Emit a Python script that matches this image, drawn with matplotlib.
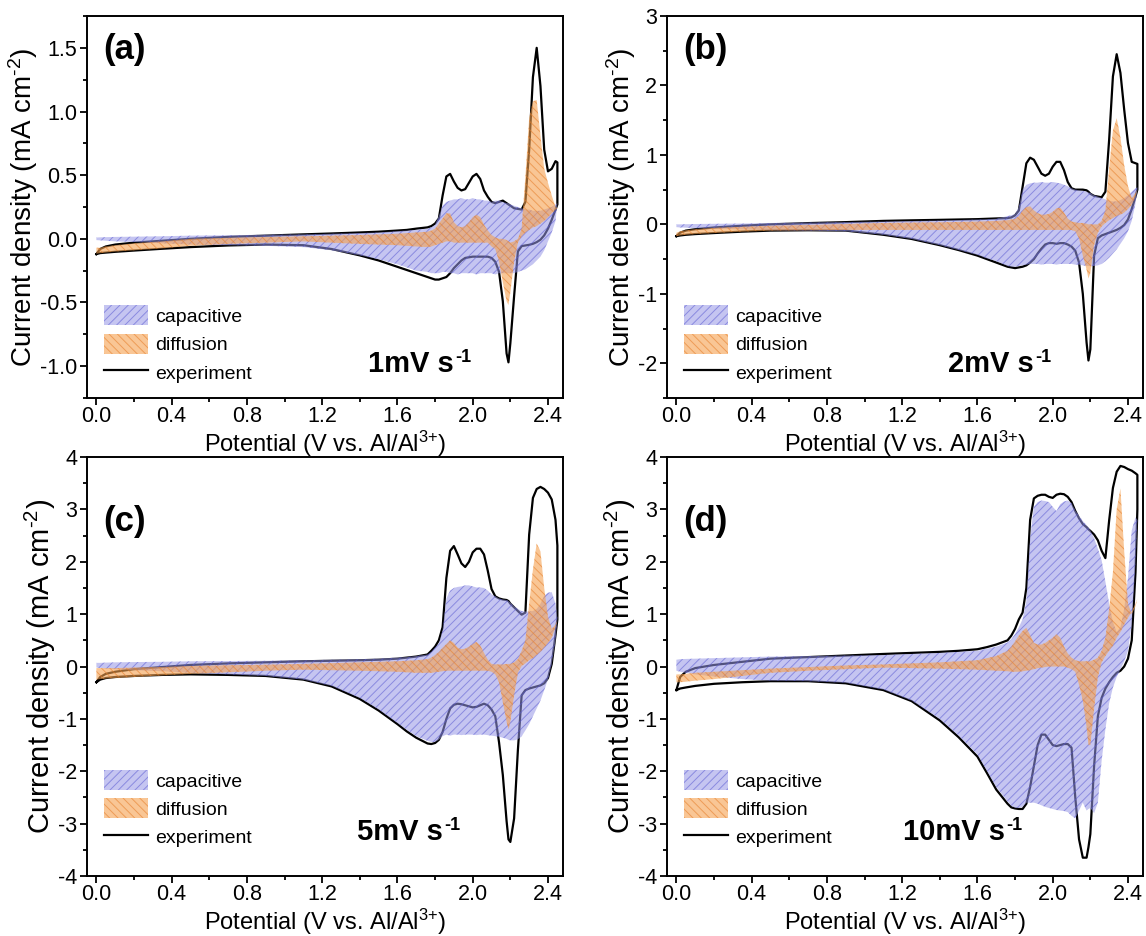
"""Capacitive / diffusion contribution to CV curves at four scan rates."""

import matplotlib
matplotlib.use("Agg")
import matplotlib.pyplot as plt
import numpy as np
from matplotlib.ticker import FormatStrFormatter, MultipleLocator

plt.rcParams["font.family"] = ["Liberation Sans", "DejaVu Sans"]
plt.rcParams["mathtext.fontset"] = "custom"
plt.rcParams["mathtext.rm"] = "Liberation Sans"
plt.rcParams["mathtext.it"] = "Liberation Sans:italic"
plt.rcParams["mathtext.bf"] = "Liberation Sans:bold"
plt.rcParams["axes.unicode_minus"] = False
plt.rcParams["hatch.linewidth"] = 0.7

# Potential grid (V vs. Al/Al3+) shared by every curve
POTENTIAL = [0.00, 0.02, 0.05, 0.10, 0.20, 0.35, 0.50, 0.70, 0.90, 1.10,
             1.25, 1.40, 1.50, 1.60, 1.65, 1.70,
             1.76, 1.78, 1.80, 1.82, 1.84, 1.86, 1.88, 1.90, 1.92, 1.94,
             1.96, 1.98, 2.00, 2.02, 2.04, 2.06, 2.08, 2.10, 2.12, 2.14,
             2.16, 2.18, 2.19, 2.20, 2.22, 2.24, 2.26, 2.28, 2.30, 2.32,
             2.34, 2.36, 2.38, 2.40, 2.42, 2.44, 2.45]

# --- 1 mV/s ---
A_EXP_UP = [-0.12, -0.08, -0.06, -0.045, -0.03, -0.015, 0.00, 0.015, 0.025, 0.035,
            0.042, 0.05, 0.056, 0.065, 0.07, 0.08,
            0.09, 0.10, 0.12, 0.16, 0.34, 0.49, 0.51, 0.45, 0.40, 0.38,
            0.39, 0.44, 0.49, 0.51, 0.47, 0.38, 0.33, 0.29, 0.28, 0.29,
            0.30, 0.28, 0.27, 0.26, 0.24, 0.235, 0.23, 0.29, 0.70, 1.27,
            1.50, 1.20, 0.70, 0.53, 0.55, 0.61, 0.60]
A_EXP_DN = [-0.12, -0.112, -0.108, -0.102, -0.092, -0.078, -0.065, -0.052, -0.045, -0.05,
            -0.08, -0.13, -0.17, -0.22, -0.245, -0.27,
            -0.30, -0.31, -0.32, -0.32, -0.31, -0.30, -0.27, -0.23, -0.20, -0.17,
            -0.15, -0.145, -0.14, -0.14, -0.14, -0.14, -0.14, -0.15, -0.18, -0.26,
            -0.49, -0.90, -0.97, -0.82, -0.45, -0.10, -0.057, -0.052, -0.047, -0.039,
            -0.026, -0.007, 0.027, 0.08, 0.15, 0.23, 0.27]
A_CAP_UP = [0.01, 0.012, 0.013, 0.015, 0.017, 0.02, 0.025, 0.028, 0.032, 0.035,
            0.04, 0.045, 0.05, 0.06, 0.065, 0.07,
            0.08, 0.09, 0.11, 0.18, 0.26, 0.29, 0.30, 0.31, 0.31, 0.32,
            0.31, 0.31, 0.32, 0.31, 0.31, 0.30, 0.30, 0.29, 0.30, 0.30,
            0.29, 0.28, 0.28, 0.27, 0.26, 0.25, 0.24, 0.23, 0.23, 0.22,
            0.22, 0.22, 0.23, 0.24, 0.25, 0.27, 0.28]
A_CAP_DN = [-0.01, -0.012, -0.015, -0.02, -0.025, -0.035, -0.045, -0.05, -0.055, -0.065,
            -0.09, -0.13, -0.16, -0.20, -0.225, -0.25,
            -0.26, -0.27, -0.27, -0.27, -0.26, -0.26, -0.27, -0.27, -0.28, -0.27,
            -0.27, -0.27, -0.27, -0.28, -0.27, -0.27, -0.27, -0.27, -0.28, -0.27,
            -0.27, -0.27, -0.27, -0.27, -0.27, -0.26, -0.25, -0.24, -0.22, -0.20,
            -0.17, -0.14, -0.09, -0.02, 0.05, 0.14, 0.28]
A_DIF_UP = [-0.07, -0.07, -0.06, -0.05, -0.035, -0.02, 0.00, 0.008, 0.014, 0.02,
            0.025, 0.03, 0.035, 0.04, 0.045, 0.05,
            0.056, 0.065, 0.08, 0.12, 0.16, 0.20, 0.20, 0.13, 0.10, 0.09,
            0.10, 0.13, 0.17, 0.19, 0.17, 0.11, 0.065, 0.03, 0.01, 0.00,
            0.00, -0.01, -0.02, -0.03, -0.02, 0.00, 0.08, 0.49, 0.95, 1.08,
            1.09, 0.81, 0.55, 0.44, 0.34, 0.25, 0.24]
A_DIF_DN = [-0.117, -0.112, -0.108, -0.10, -0.09, -0.075, -0.055, -0.04, -0.03, -0.02,
            -0.03, -0.04, -0.045, -0.05, -0.055, -0.06,
            -0.065, -0.06, -0.05, -0.04, -0.03, -0.02, -0.02, -0.03, -0.03, -0.03,
            -0.03, -0.03, -0.03, -0.03, -0.03, -0.03, -0.03, -0.06, -0.08, -0.18,
            -0.34, -0.49, -0.52, -0.42, -0.18, -0.03, 0.02, 0.05, 0.07, 0.09,
            0.10, 0.12, 0.14, 0.17, 0.20, 0.23, 0.24]

# --- 2 mV/s ---
B_EXP_UP = [-0.17, -0.12, -0.09, -0.07, -0.045, -0.02, 0.00, 0.018, 0.032, 0.05,
            0.058, 0.065, 0.07, 0.075, 0.08, 0.085,
            0.09, 0.10, 0.13, 0.20, 0.54, 0.88, 0.96, 0.93, 0.83, 0.73,
            0.70, 0.73, 0.83, 0.90, 0.90, 0.78, 0.61, 0.52, 0.50, 0.50,
            0.50, 0.49, 0.47, 0.44, 0.41, 0.40, 0.39, 0.47, 1.22, 2.13,
            2.45, 2.18, 1.65, 1.17, 0.90, 0.88, 0.87]
B_EXP_DN = [-0.17, -0.16, -0.15, -0.14, -0.125, -0.105, -0.09, -0.085, -0.09, -0.15,
            -0.21, -0.30, -0.37, -0.45, -0.50, -0.55,
            -0.61, -0.62, -0.63, -0.62, -0.61, -0.59, -0.55, -0.50, -0.42, -0.35,
            -0.29, -0.27, -0.27, -0.28, -0.27, -0.27, -0.29, -0.32, -0.38, -0.55,
            -1.00, -1.70, -1.96, -1.80, -0.45, -0.20, -0.16, -0.14, -0.12, -0.10,
            -0.08, -0.05, -0.01, 0.07, 0.22, 0.40, 0.50]
B_CAP_UP = [0.00, 0.00, 0.002, 0.005, 0.008, 0.012, 0.02, 0.026, 0.033, 0.04,
            0.048, 0.055, 0.062, 0.07, 0.075, 0.08,
            0.12, 0.13, 0.15, 0.25, 0.50, 0.57, 0.59, 0.60, 0.60, 0.61,
            0.60, 0.60, 0.61, 0.60, 0.59, 0.57, 0.55, 0.52, 0.50, 0.49,
            0.48, 0.47, 0.46, 0.45, 0.42, 0.40, 0.38, 0.36, 0.34, 0.33,
            0.33, 0.35, 0.38, 0.42, 0.47, 0.52, 0.53]
B_CAP_DN = [-0.04, -0.045, -0.048, -0.055, -0.062, -0.072, -0.085, -0.09, -0.10, -0.15,
            -0.21, -0.30, -0.37, -0.44, -0.49, -0.53,
            -0.60, -0.61, -0.61, -0.60, -0.59, -0.58, -0.57, -0.57, -0.57, -0.58,
            -0.57, -0.57, -0.57, -0.58, -0.57, -0.57, -0.57, -0.57, -0.58, -0.58,
            -0.59, -0.60, -0.60, -0.60, -0.60, -0.59, -0.57, -0.53, -0.48, -0.42,
            -0.36, -0.28, -0.20, -0.10, 0.05, 0.30, 0.50]
B_DIF_UP = [-0.12, -0.10, -0.085, -0.07, -0.05, -0.035, -0.02, -0.008, 0.005, 0.02,
            0.025, 0.03, 0.035, 0.04, 0.045, 0.05,
            0.06, 0.07, 0.08, 0.12, 0.20, 0.25, 0.26, 0.20, 0.16, 0.14,
            0.14, 0.15, 0.18, 0.23, 0.24, 0.17, 0.08, 0.04, 0.03, 0.02,
            0.02, 0.01, 0.00, 0.00, 0.00, 0.00, 0.05, 0.20, 0.80, 1.35,
            1.53, 1.25, 0.85, 0.55, 0.38, 0.45, 0.50]
B_DIF_DN = [-0.17, -0.16, -0.15, -0.14, -0.125, -0.105, -0.09, -0.085, -0.08, -0.08,
            -0.08, -0.08, -0.08, -0.08, -0.08, -0.08,
            -0.08, -0.08, -0.08, -0.08, -0.08, -0.08, -0.08, -0.08, -0.08, -0.08,
            -0.08, -0.08, -0.08, -0.08, -0.08, -0.08, -0.08, -0.08, -0.10, -0.20,
            -0.45, -0.65, -0.78, -0.70, -0.30, -0.12, -0.03, 0.02, 0.06, 0.09,
            0.12, 0.14, 0.17, 0.22, 0.28, 0.40, 0.50]

# --- 5 mV/s ---
C_EXP_UP = [-0.30, -0.20, -0.14, -0.10, -0.05, -0.01, 0.03, 0.06, 0.08, 0.10,
            0.11, 0.12, 0.13, 0.15, 0.17, 0.19,
            0.23, 0.30, 0.38, 0.50, 0.75, 1.69, 2.21, 2.30, 2.14, 1.97,
            1.90, 2.00, 2.18, 2.25, 2.25, 2.14, 1.83, 1.48, 1.34, 1.30,
            1.28, 1.27, 1.25, 1.20, 1.13, 1.06, 0.99, 1.03, 2.52, 3.22,
            3.39, 3.43, 3.39, 3.32, 3.19, 2.80, 2.31]
C_EXP_DN = [-0.30, -0.25, -0.22, -0.20, -0.18, -0.16, -0.15, -0.16, -0.18, -0.25,
            -0.38, -0.62, -0.84, -1.10, -1.24, -1.36,
            -1.47, -1.48, -1.46, -1.40, -1.25, -1.00, -0.80, -0.73, -0.71, -0.72,
            -0.74, -0.76, -0.78, -0.77, -0.74, -0.71, -0.74, -0.82, -0.95, -1.45,
            -2.07, -2.95, -3.30, -3.35, -2.90, -1.60, -0.55, -0.45, -0.42, -0.40,
            -0.38, -0.36, -0.32, -0.22, 0.05, 0.60, 0.90]
C_CAP_UP = [0.07, 0.07, 0.075, 0.08, 0.085, 0.09, 0.10, 0.105, 0.11, 0.12,
            0.13, 0.14, 0.15, 0.17, 0.18, 0.20,
            0.23, 0.28, 0.36, 0.44, 0.70, 1.30, 1.45, 1.50, 1.52, 1.53,
            1.55, 1.55, 1.53, 1.51, 1.51, 1.50, 1.45, 1.38, 1.34, 1.30,
            1.28, 1.27, 1.25, 1.22, 1.15, 1.10, 1.06, 1.05, 1.05, 1.06,
            1.10, 1.20, 1.35, 1.41, 1.42, 1.20, 0.92]
C_CAP_DN = [-0.02, -0.03, -0.04, -0.05, -0.07, -0.09, -0.12, -0.15, -0.18, -0.25,
            -0.37, -0.60, -0.82, -1.08, -1.21, -1.33,
            -1.42, -1.44, -1.44, -1.40, -1.33, -1.30, -1.32, -1.30, -1.30, -1.31,
            -1.30, -1.30, -1.30, -1.31, -1.30, -1.30, -1.31, -1.32, -1.33, -1.34,
            -1.36, -1.38, -1.40, -1.41, -1.41, -1.39, -1.33, -1.22, -1.10, -0.95,
            -0.80, -0.65, -0.45, -0.25, 0.05, 0.50, 0.92]
C_DIF_UP = [-0.03, -0.03, -0.03, -0.03, -0.02, -0.01, 0.01, 0.025, 0.035, 0.05,
            0.065, 0.08, 0.09, 0.10, 0.11, 0.12,
            0.14, 0.17, 0.22, 0.28, 0.36, 0.43, 0.50, 0.45, 0.36, 0.33,
            0.34, 0.38, 0.43, 0.47, 0.40, 0.26, 0.13, 0.05, 0.04, 0.04,
            0.04, 0.05, 0.05, 0.05, 0.08, 0.14, 0.30, 0.50, 1.20, 1.85,
            2.35, 2.20, 1.50, 0.95, 0.72, 0.80, 0.88]
C_DIF_DN = [-0.25, -0.24, -0.23, -0.22, -0.20, -0.17, -0.14, -0.11, -0.08, -0.06,
            -0.07, -0.08, -0.09, -0.10, -0.11, -0.12,
            -0.12, -0.12, -0.11, -0.10, -0.09, -0.08, -0.08, -0.08, -0.08, -0.08,
            -0.08, -0.08, -0.08, -0.08, -0.08, -0.08, -0.08, -0.10, -0.15, -0.30,
            -0.68, -1.05, -1.20, -1.05, -0.55, -0.12, 0.01, 0.06, 0.12, 0.16,
            0.22, 0.28, 0.36, 0.45, 0.55, 0.75, 0.88]

# --- 10 mV/s ---
D_EXP_UP = [-0.45, -0.20, -0.10, -0.03, 0.03, 0.09, 0.15, 0.18, 0.21, 0.24,
            0.26, 0.28, 0.30, 0.33, 0.37, 0.42,
            0.50, 0.59, 0.72, 0.90, 1.03, 1.50, 2.80, 3.21, 3.26, 3.28,
            3.28, 3.24, 3.22, 3.28, 3.30, 3.29, 3.24, 3.14, 2.97, 2.83,
            2.72, 2.66, 2.62, 2.59, 2.52, 2.41, 2.21, 2.07, 2.79, 3.41,
            3.72, 3.83, 3.81, 3.77, 3.74, 3.69, 3.66]
D_EXP_DN = [-0.45, -0.42, -0.40, -0.37, -0.33, -0.30, -0.28, -0.28, -0.32, -0.45,
            -0.66, -1.03, -1.35, -1.72, -2.03, -2.35,
            -2.62, -2.69, -2.71, -2.72, -2.72, -2.62, -2.30, -1.90, -1.50, -1.30,
            -1.30, -1.40, -1.50, -1.52, -1.50, -1.48, -1.48, -1.55, -2.50, -3.30,
            -3.65, -3.65, -3.45, -3.20, -1.90, -0.95, -0.60, -0.42, -0.30, -0.20,
            -0.12, -0.08, 0.00, 0.15, 0.50, 1.80, 3.00]
D_CAP_UP = [0.13, 0.14, 0.145, 0.15, 0.16, 0.175, 0.19, 0.20, 0.21, 0.22,
            0.24, 0.26, 0.28, 0.30, 0.34, 0.38,
            0.46, 0.52, 0.62, 0.75, 0.90, 1.25, 2.45, 3.05, 3.14, 3.17,
            3.16, 3.14, 3.05, 2.97, 3.10, 3.15, 3.17, 3.12, 2.98, 2.88,
            2.78, 2.70, 2.65, 2.60, 2.45, 2.25, 2.03, 1.62, 1.20, 0.85,
            0.66, 0.75, 1.10, 1.70, 2.60, 2.85, 2.80]
D_CAP_DN = [-0.08, -0.10, -0.12, -0.15, -0.19, -0.24, -0.27, -0.28, -0.31, -0.44,
            -0.65, -1.00, -1.32, -1.68, -1.99, -2.30,
            -2.58, -2.66, -2.70, -2.70, -2.68, -2.60, -2.60, -2.60, -2.62, -2.65,
            -2.68, -2.70, -2.72, -2.74, -2.75, -2.76, -2.78, -2.85, -2.90, -2.75,
            -2.60, -2.75, -2.72, -2.70, -2.80, -2.60, -1.80, -1.20, -0.70, -0.40,
            -0.20, -0.05, 0.10, 0.30, 0.80, 2.00, 2.80]
D_DIF_UP = [-0.15, -0.15, -0.14, -0.12, -0.10, -0.07, -0.04, -0.01, 0.02, 0.04,
            0.06, 0.08, 0.10, 0.12, 0.16, 0.20,
            0.30, 0.38, 0.48, 0.59, 0.68, 0.74, 0.60, 0.45, 0.42, 0.42,
            0.45, 0.50, 0.55, 0.62, 0.55, 0.38, 0.25, 0.17, 0.12, 0.10,
            0.10, 0.10, 0.10, 0.10, 0.13, 0.17, 0.30, 0.55, 1.10, 1.80,
            3.00, 3.40, 2.20, 1.20, 1.00, 1.15, 1.30]
D_DIF_DN = [-0.30, -0.30, -0.29, -0.27, -0.24, -0.18, -0.12, -0.08, -0.05, -0.02,
            -0.03, -0.04, -0.05, -0.06, -0.07, -0.08,
            -0.09, -0.10, -0.10, -0.10, -0.09, -0.08, -0.07, -0.05, -0.03, -0.02,
            -0.01, 0.00, 0.00, 0.00, 0.00, 0.00, -0.02, -0.05, -0.10, -0.35,
            -0.65, -1.15, -1.50, -1.50, -0.80, -0.20, 0.08, 0.20, 0.30, 0.40,
            0.55, 0.66, 0.80, 0.93, 1.05, 1.20, 1.30]

PANEL_TAGS = ["(a)", "(b)", "(c)", "(d)"]
SCAN_RATES = ["1", "2", "5", "10"]

CAP_FACE = (0.59, 0.59, 0.90)
CAP_HATCH = (0.35, 0.35, 0.82)
DIF_FACE = (0.96, 0.63, 0.31)
DIF_HATCH = (0.90, 0.50, 0.18)


def draw_panel(ax, exp_up, exp_dn, cap_up, cap_dn, dif_up, dif_dn):
    """Draw one CV loop with its capacitive and diffusion shares."""
    v = np.asarray(POTENTIAL)
    loop_v = np.concatenate([v, v[::-1], v[:1]])
    loop_i = np.concatenate([exp_up, exp_dn[::-1], exp_up[:1]])
    line, = ax.plot(loop_v, loop_i, color="black", lw=1.6, zorder=1)

    # shaded shares sit over the loop, so the line shows through them
    cap = ax.fill_between(v, cap_dn, cap_up, facecolor=CAP_FACE,
                          edgecolor=CAP_HATCH, hatch="////", lw=0,
                          alpha=0.55, zorder=2)
    dif = ax.fill_between(v, dif_dn, dif_up, facecolor=DIF_FACE,
                          edgecolor=DIF_HATCH, hatch="\\\\\\\\", lw=0,
                          alpha=0.6, zorder=3)
    return cap, dif, line


def style_axes(ax, ylim, ymajor, yminor, yfmt, ylabel_size):
    ax.set_xlim(-0.05, 2.48)
    ax.set_ylim(*ylim)
    ax.xaxis.set_major_locator(MultipleLocator(0.4))
    ax.xaxis.set_minor_locator(MultipleLocator(0.2))
    ax.xaxis.set_major_formatter(FormatStrFormatter("%.1f"))
    ax.yaxis.set_major_locator(MultipleLocator(ymajor))
    ax.yaxis.set_minor_locator(MultipleLocator(yminor))
    ax.yaxis.set_major_formatter(FormatStrFormatter(yfmt))
    ax.tick_params(which="both", direction="out", top=False, right=False,
                   width=1.3, labelsize=15.5, pad=2)
    ax.tick_params(axis="x", pad=1)
    ax.tick_params(which="major", length=5)
    ax.tick_params(which="minor", length=3)
    for spine in ax.spines.values():
        spine.set_linewidth(1.4)
    ax.set_xlabel(r"Potential (V vs. Al/Al$^{3\text{+}}$)", fontsize=17,
                  labelpad=1)
    ax.set_ylabel(r"Current density (mA cm$^{\text{-}2}$)",
                  fontsize=ylabel_size, labelpad=0)


def main():
    fig = plt.figure(figsize=(11.46, 9.36), dpi=100)
    boxes = [
        [0.0759, 0.5748, 0.4154, 0.4081],
        [0.5820, 0.5748, 0.4154, 0.4081],
        [0.0759, 0.0641, 0.4154, 0.4476],
        [0.5820, 0.0641, 0.4154, 0.4476],
    ]
    series = [
        (A_EXP_UP, A_EXP_DN, A_CAP_UP, A_CAP_DN, A_DIF_UP, A_DIF_DN),
        (B_EXP_UP, B_EXP_DN, B_CAP_UP, B_CAP_DN, B_DIF_UP, B_DIF_DN),
        (C_EXP_UP, C_EXP_DN, C_CAP_UP, C_CAP_DN, C_DIF_UP, C_DIF_DN),
        (D_EXP_UP, D_EXP_DN, D_CAP_UP, D_CAP_DN, D_DIF_UP, D_DIF_DN),
    ]
    limits = [
        ((-1.25, 1.75), 0.5, 0.25, "%.1f", 20),
        ((-2.5, 3.0), 1, 0.5, "%d", 20),
        ((-4, 4), 1, 0.5, "%d", 21),
        ((-4, 4), 1, 0.5, "%d", 21),
    ]
    tag_y = [0.955, 0.955, 0.885, 0.885]
    rate_pos = [(0.59, 0.068), (0.59, 0.068), (0.567, 0.085), (0.496, 0.085)]
    legend_y = [0.02, 0.02, 0.05, 0.05]

    for i, ax_box in enumerate(boxes):
        ax = fig.add_axes(ax_box)
        arrays = [np.asarray(d, dtype=float) for d in series[i]]
        cap, dif, line = draw_panel(ax, *arrays)
        style_axes(ax, *limits[i])

        ax.text(0.035, tag_y[i], PANEL_TAGS[i], transform=ax.transAxes,
                fontsize=25, fontweight="bold", va="top", ha="left")
        rate = ax.text(rate_pos[i][0], rate_pos[i][1], SCAN_RATES[i] + "mV s",
                       transform=ax.transAxes, fontsize=21, fontweight="bold",
                       va="baseline", ha="left")
        ax.annotate("-1", xy=(1.0, 1.0), xycoords=rate, xytext=(1, 1),
                    textcoords="offset points", fontsize=13,
                    fontweight="bold", va="top", ha="left")
        ax.legend([cap, dif, line], ["capacitive", "diffusion", "experiment"],
                  loc="lower left", bbox_to_anchor=(0.02, legend_y[i]),
                  frameon=False, fontsize=14, handlelength=2.25,
                  handleheight=1.2, handletextpad=0.35, labelspacing=0.4,
                  borderaxespad=0.0)

    fig.savefig("out.png", dpi=100)
    plt.close(fig)


if __name__ == "__main__":
    main()
